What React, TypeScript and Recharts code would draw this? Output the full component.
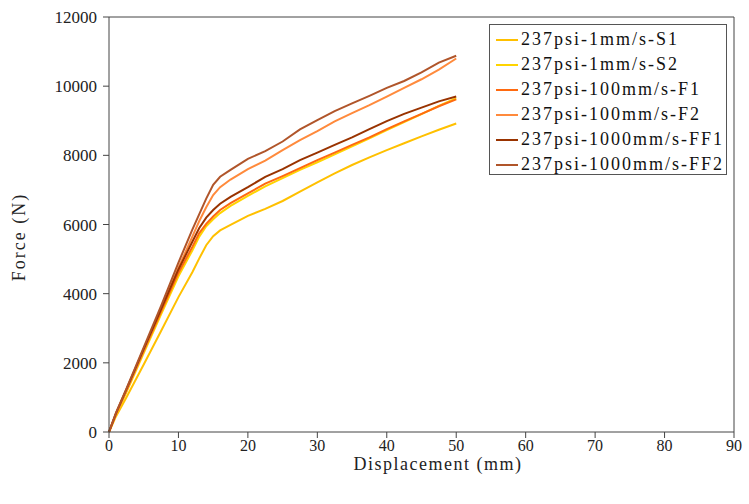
import React from 'react';
import {
  LineChart,
  Line,
  XAxis,
  YAxis,
  ReferenceLine,
} from 'recharts';

const displacement = [0, 1, 2.5, 5, 7.5, 10, 12, 13, 14, 15, 16, 17.5, 20, 22.5, 25, 27.5, 30, 32.5, 35, 37.5, 40, 42.5, 45, 47.5, 50];

const s1 = [0, 450, 1000, 1950, 2920, 3900, 4620, 5020, 5400, 5660, 5830, 5990, 6250, 6450, 6680, 6950, 7220, 7480, 7720, 7940, 8150, 8350, 8550, 8740, 8920];
const s2 = [0, 500, 1150, 2280, 3400, 4500, 5250, 5650, 5950, 6150, 6330, 6540, 6830, 7100, 7340, 7580, 7800, 8030, 8260, 8490, 8730, 8960, 9190, 9430, 9650];
const f1 = [0, 520, 1200, 2350, 3480, 4600, 5350, 5750, 6020, 6230, 6420, 6620, 6900, 7180, 7400, 7630, 7860, 8080, 8300, 8520, 8760, 8980, 9200, 9420, 9620];
const f2 = [0, 520, 1200, 2370, 3550, 4750, 5650, 6100, 6500, 6850, 7080, 7300, 7600, 7850, 8150, 8440, 8700, 8980, 9220, 9450, 9700, 9950, 10200, 10480, 10800];
const ff1 = [0, 540, 1230, 2400, 3550, 4700, 5500, 5900, 6200, 6420, 6600, 6800, 7080, 7380, 7600, 7860, 8080, 8300, 8520, 8760, 8990, 9200, 9380, 9560, 9700];
const ff2 = [0, 550, 1250, 2450, 3650, 4900, 5850, 6300, 6750, 7150, 7380, 7580, 7900, 8120, 8400, 8750, 9020, 9280, 9500, 9720, 9950, 10150, 10400, 10680, 10880];

const seriesNames = [
  '237psi-1mm/s-S1',
  '237psi-1mm/s-S2',
  '237psi-100mm/s-F1',
  '237psi-100mm/s-F2',
  '237psi-1000mm/s-FF1',
  '237psi-1000mm/s-FF2',
];
const seriesValues = [s1, s2, f1, f2, ff1, ff2];
const seriesColors = ['#FFC000', '#FFD400', '#FF6A10', '#FF8A3C', '#993300', '#B0552A'];

const xTicks = [0, 10, 20, 30, 40, 50, 60, 70, 80, 90];
const yTicks = [0, 2000, 4000, 6000, 8000, 10000, 12000];

const data = displacement.map((x, i) => {
  const row: Record<string, number> = { x };
  seriesNames.forEach((name, k) => {
    row[name] = seriesValues[k][i];
  });
  return row;
});

const font = '"Liberation Serif", "Times New Roman", serif';
const axisColor = '#444';

const App: React.FC = () => {
  return (
    <div style={{ position: 'absolute', left: 0, top: 0, width: 749, height: 504, background: '#fff' }}>
      <LineChart
        width={749}
        height={504}
        data={data}
        margin={{ top: 17, right: 15, bottom: 0, left: 0 }}
      >
        <XAxis
          dataKey="x"
          type="number"
          domain={[0, 90]}
          ticks={xTicks}
          height={72}
          tickSize={6}
          tickMargin={2}
          stroke={axisColor}
          tick={{ fill: '#222', fontSize: 16, fontFamily: font }}
          label={{
            content: () => (
              <text x={438} y={470} textAnchor="middle" fill="#222" fontSize={18} letterSpacing={1.5} fontFamily={font}>
                Displacement (mm)
              </text>
            ),
          }}
        />
        <YAxis
          type="number"
          domain={[0, 12000]}
          ticks={yTicks}
          width={109}
          tickSize={6}
          tickMargin={6}
          stroke={axisColor}
          tick={{ fill: '#222', fontSize: 17, fontFamily: font }}
          label={{
            content: () => (
              <text
                x={25}
                y={237}
                transform="rotate(-90 25 237)"
                textAnchor="middle"
                fill="#222"
                fontSize={18}
                letterSpacing={2}
                fontFamily={font}
              >
                Force (N)
              </text>
            ),
          }}
        />
        <ReferenceLine y={12000} stroke={axisColor} />
        <ReferenceLine x={90} stroke={axisColor} />
        {seriesNames.map((name, k) => (
          <Line
            key={name}
            type="linear"
            dataKey={name}
            stroke={seriesColors[k]}
            strokeWidth={2}
            dot={false}
            isAnimationActive={false}
          />
        ))}
      </LineChart>
      <div
        style={{
          position: 'absolute',
          left: 489,
          top: 24,
          width: 236,
          height: 149,
          border: '1px solid #555',
          background: '#fff',
          fontFamily: font,
          fontSize: 18,
          letterSpacing: 2,
          color: '#111',
          boxSizing: 'content-box',
        }}
      >
        {seriesNames.map((name, k) => (
          <div key={name} style={{ position: 'absolute', left: 6, top: 2 + k * 25, height: 25, display: 'flex', alignItems: 'center', whiteSpace: 'nowrap' }}>
            <span style={{ display: 'inline-block', width: 22, height: 2, background: seriesColors[k], marginRight: 3 }} />
            <span>{name}</span>
          </div>
        ))}
      </div>
    </div>
  );
};

export default App;
